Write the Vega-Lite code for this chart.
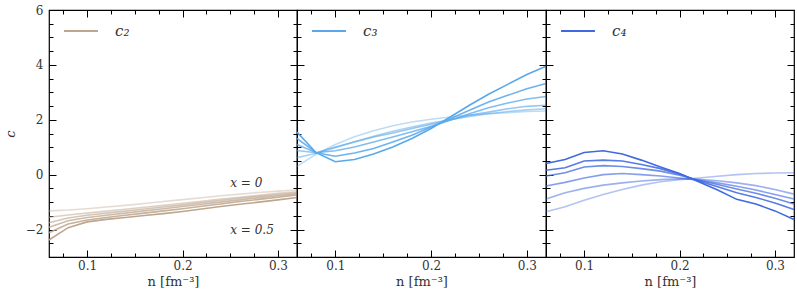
{
  "$schema": "https://vega.github.io/schema/vega-lite/v6.json",
  "padding": {"left": 3, "top": 3, "right": 2, "bottom": 4},
  "background": "white",
  "bounds": "flush",
  "config": {
    "view": {"stroke": "black", "strokeWidth": 1.2},
    "font": "DejaVu Serif",
    "style": {"guide-label": {"font": "DejaVu Serif"}, "guide-title": {"font": "DejaVu Serif"}},
    "text": {"font": "DejaVu Serif"},
    "legend": {"labelFont": "DejaVu Serif"},
    "axis": {"domain": false, "grid": false, "minExtent": 0, "tickColor": "black", "tickWidth": 1, "labelColor": "#333", "labelFontSize": 12, "labelFont": "DejaVu Serif", "titleFont": "DejaVu Serif", "titleFontSize": 13, "titleFontWeight": "normal", "titleColor": "#333"}
  },
  "datasets": {
    "c2": [
      {"x":0,"n":0.06,"c":-1.32},{"x":0,"n":0.08,"c":-1.29},{"x":0,"n":0.1,"c":-1.24},{"x":0,"n":0.12,"c":-1.18},{"x":0,"n":0.14,"c":-1.12},{"x":0,"n":0.16,"c":-1.05},{"x":0,"n":0.18,"c":-0.98},{"x":0,"n":0.2,"c":-0.91},{"x":0,"n":0.22,"c":-0.84},{"x":0,"n":0.24,"c":-0.77},{"x":0,"n":0.26,"c":-0.71},{"x":0,"n":0.28,"c":-0.65},{"x":0,"n":0.3,"c":-0.6},{"x":0,"n":0.32,"c":-0.56},
      {"x":0.1,"n":0.06,"c":-1.55},{"x":0.1,"n":0.08,"c":-1.47},{"x":0.1,"n":0.1,"c":-1.4},{"x":0.1,"n":0.12,"c":-1.33},{"x":0.1,"n":0.14,"c":-1.26},{"x":0.1,"n":0.16,"c":-1.19},{"x":0.1,"n":0.18,"c":-1.12},{"x":0.1,"n":0.2,"c":-1.04},{"x":0.1,"n":0.22,"c":-0.97},{"x":0.1,"n":0.24,"c":-0.89},{"x":0.1,"n":0.26,"c":-0.82},{"x":0.1,"n":0.28,"c":-0.75},{"x":0.1,"n":0.3,"c":-0.68},{"x":0.1,"n":0.32,"c":-0.62},
      {"x":0.2,"n":0.06,"c":-1.75},{"x":0.2,"n":0.08,"c":-1.58},{"x":0.2,"n":0.1,"c":-1.48},{"x":0.2,"n":0.12,"c":-1.4},{"x":0.2,"n":0.14,"c":-1.33},{"x":0.2,"n":0.16,"c":-1.25},{"x":0.2,"n":0.18,"c":-1.18},{"x":0.2,"n":0.2,"c":-1.1},{"x":0.2,"n":0.22,"c":-1.02},{"x":0.2,"n":0.24,"c":-0.94},{"x":0.2,"n":0.26,"c":-0.86},{"x":0.2,"n":0.28,"c":-0.79},{"x":0.2,"n":0.3,"c":-0.72},{"x":0.2,"n":0.32,"c":-0.66},
      {"x":0.3,"n":0.06,"c":-1.92},{"x":0.3,"n":0.08,"c":-1.68},{"x":0.3,"n":0.1,"c":-1.56},{"x":0.3,"n":0.12,"c":-1.48},{"x":0.3,"n":0.14,"c":-1.4},{"x":0.3,"n":0.16,"c":-1.32},{"x":0.3,"n":0.18,"c":-1.24},{"x":0.3,"n":0.2,"c":-1.16},{"x":0.3,"n":0.22,"c":-1.08},{"x":0.3,"n":0.24,"c":-1.0},{"x":0.3,"n":0.26,"c":-0.92},{"x":0.3,"n":0.28,"c":-0.84},{"x":0.3,"n":0.3,"c":-0.77},{"x":0.3,"n":0.32,"c":-0.7},
      {"x":0.4,"n":0.06,"c":-2.12},{"x":0.4,"n":0.08,"c":-1.8},{"x":0.4,"n":0.1,"c":-1.65},{"x":0.4,"n":0.12,"c":-1.56},{"x":0.4,"n":0.14,"c":-1.48},{"x":0.4,"n":0.16,"c":-1.4},{"x":0.4,"n":0.18,"c":-1.32},{"x":0.4,"n":0.2,"c":-1.24},{"x":0.4,"n":0.22,"c":-1.15},{"x":0.4,"n":0.24,"c":-1.07},{"x":0.4,"n":0.26,"c":-0.98},{"x":0.4,"n":0.28,"c":-0.9},{"x":0.4,"n":0.3,"c":-0.82},{"x":0.4,"n":0.32,"c":-0.74},
      {"x":0.5,"n":0.06,"c":-2.38},{"x":0.5,"n":0.08,"c":-1.93},{"x":0.5,"n":0.1,"c":-1.72},{"x":0.5,"n":0.12,"c":-1.63},{"x":0.5,"n":0.14,"c":-1.56},{"x":0.5,"n":0.16,"c":-1.49},{"x":0.5,"n":0.18,"c":-1.42},{"x":0.5,"n":0.2,"c":-1.34},{"x":0.5,"n":0.22,"c":-1.25},{"x":0.5,"n":0.24,"c":-1.16},{"x":0.5,"n":0.26,"c":-1.08},{"x":0.5,"n":0.28,"c":-1.0},{"x":0.5,"n":0.3,"c":-0.92},{"x":0.5,"n":0.32,"c":-0.83}
    ],
    "c3": [
      {"x":0,"n":0.06,"c":0.3},{"x":0,"n":0.08,"c":0.75},{"x":0,"n":0.1,"c":1.1},{"x":0,"n":0.12,"c":1.38},{"x":0,"n":0.14,"c":1.6},{"x":0,"n":0.16,"c":1.78},{"x":0,"n":0.18,"c":1.92},{"x":0,"n":0.2,"c":2.02},{"x":0,"n":0.22,"c":2.1},{"x":0,"n":0.24,"c":2.17},{"x":0,"n":0.26,"c":2.22},{"x":0,"n":0.28,"c":2.26},{"x":0,"n":0.3,"c":2.3},{"x":0,"n":0.32,"c":2.32},
      {"x":0.1,"n":0.06,"c":0.62},{"x":0.1,"n":0.08,"c":0.78},{"x":0.1,"n":0.1,"c":0.98},{"x":0.1,"n":0.12,"c":1.2},{"x":0.1,"n":0.14,"c":1.4},{"x":0.1,"n":0.16,"c":1.58},{"x":0.1,"n":0.18,"c":1.74},{"x":0.1,"n":0.2,"c":1.88},{"x":0.1,"n":0.22,"c":2.0},{"x":0.1,"n":0.24,"c":2.12},{"x":0.1,"n":0.26,"c":2.22},{"x":0.1,"n":0.28,"c":2.3},{"x":0.1,"n":0.3,"c":2.36},{"x":0.1,"n":0.32,"c":2.4},
      {"x":0.2,"n":0.06,"c":0.88},{"x":0.2,"n":0.08,"c":0.8},{"x":0.2,"n":0.1,"c":1.01},{"x":0.2,"n":0.12,"c":1.19},{"x":0.2,"n":0.14,"c":1.37},{"x":0.2,"n":0.16,"c":1.52},{"x":0.2,"n":0.18,"c":1.68},{"x":0.2,"n":0.2,"c":1.84},{"x":0.2,"n":0.22,"c":2.0},{"x":0.2,"n":0.24,"c":2.16},{"x":0.2,"n":0.26,"c":2.28},{"x":0.2,"n":0.28,"c":2.4},{"x":0.2,"n":0.3,"c":2.49},{"x":0.2,"n":0.32,"c":2.53},
      {"x":0.3,"n":0.06,"c":1.1},{"x":0.3,"n":0.08,"c":0.8},{"x":0.3,"n":0.1,"c":0.87},{"x":0.3,"n":0.12,"c":1.01},{"x":0.3,"n":0.14,"c":1.19},{"x":0.3,"n":0.16,"c":1.37},{"x":0.3,"n":0.18,"c":1.56},{"x":0.3,"n":0.2,"c":1.76},{"x":0.3,"n":0.22,"c":1.98},{"x":0.3,"n":0.24,"c":2.22},{"x":0.3,"n":0.26,"c":2.44},{"x":0.3,"n":0.28,"c":2.61},{"x":0.3,"n":0.3,"c":2.76},{"x":0.3,"n":0.32,"c":2.85},
      {"x":0.4,"n":0.06,"c":1.32},{"x":0.4,"n":0.08,"c":0.8},{"x":0.4,"n":0.1,"c":0.67},{"x":0.4,"n":0.12,"c":0.79},{"x":0.4,"n":0.14,"c":0.95},{"x":0.4,"n":0.16,"c":1.19},{"x":0.4,"n":0.18,"c":1.44},{"x":0.4,"n":0.2,"c":1.74},{"x":0.4,"n":0.22,"c":2.04},{"x":0.4,"n":0.24,"c":2.35},{"x":0.4,"n":0.26,"c":2.65},{"x":0.4,"n":0.28,"c":2.89},{"x":0.4,"n":0.3,"c":3.13},{"x":0.4,"n":0.32,"c":3.32},
      {"x":0.5,"n":0.06,"c":1.55},{"x":0.5,"n":0.08,"c":0.8},{"x":0.5,"n":0.1,"c":0.47},{"x":0.5,"n":0.12,"c":0.55},{"x":0.5,"n":0.14,"c":0.75},{"x":0.5,"n":0.16,"c":1.01},{"x":0.5,"n":0.18,"c":1.32},{"x":0.5,"n":0.2,"c":1.68},{"x":0.5,"n":0.22,"c":2.1},{"x":0.5,"n":0.24,"c":2.53},{"x":0.5,"n":0.26,"c":2.93},{"x":0.5,"n":0.28,"c":3.29},{"x":0.5,"n":0.3,"c":3.65},{"x":0.5,"n":0.32,"c":3.95}
    ],
    "c4": [
      {"x":0,"n":0.06,"c":-1.35},{"x":0,"n":0.08,"c":-1.17},{"x":0,"n":0.1,"c":-0.93},{"x":0,"n":0.12,"c":-0.72},{"x":0,"n":0.14,"c":-0.54},{"x":0,"n":0.16,"c":-0.38},{"x":0,"n":0.18,"c":-0.26},{"x":0,"n":0.2,"c":-0.18},{"x":0,"n":0.22,"c":-0.12},{"x":0,"n":0.24,"c":-0.06},{"x":0,"n":0.26,"c":0.0},{"x":0,"n":0.28,"c":0.04},{"x":0,"n":0.3,"c":0.06},{"x":0,"n":0.32,"c":0.07},
      {"x":0.1,"n":0.06,"c":-0.89},{"x":0.1,"n":0.08,"c":-0.66},{"x":0.1,"n":0.1,"c":-0.5},{"x":0.1,"n":0.12,"c":-0.38},{"x":0.1,"n":0.14,"c":-0.3},{"x":0.1,"n":0.16,"c":-0.23},{"x":0.1,"n":0.18,"c":-0.18},{"x":0.1,"n":0.2,"c":-0.15},{"x":0.1,"n":0.22,"c":-0.17},{"x":0.1,"n":0.24,"c":-0.22},{"x":0.1,"n":0.26,"c":-0.3},{"x":0.1,"n":0.28,"c":-0.4},{"x":0.1,"n":0.3,"c":-0.54},{"x":0.1,"n":0.32,"c":-0.71},
      {"x":0.2,"n":0.06,"c":-0.41},{"x":0.2,"n":0.08,"c":-0.28},{"x":0.2,"n":0.1,"c":-0.12},{"x":0.2,"n":0.12,"c":0.0},{"x":0.2,"n":0.14,"c":0.04},{"x":0.2,"n":0.16,"c":0.0},{"x":0.2,"n":0.18,"c":-0.05},{"x":0.2,"n":0.2,"c":-0.12},{"x":0.2,"n":0.22,"c":-0.2},{"x":0.2,"n":0.24,"c":-0.3},{"x":0.2,"n":0.26,"c":-0.42},{"x":0.2,"n":0.28,"c":-0.56},{"x":0.2,"n":0.3,"c":-0.72},{"x":0.2,"n":0.32,"c":-0.89},
      {"x":0.3,"n":0.06,"c":-0.05},{"x":0.3,"n":0.08,"c":0.07},{"x":0.3,"n":0.1,"c":0.28},{"x":0.3,"n":0.12,"c":0.33},{"x":0.3,"n":0.14,"c":0.3},{"x":0.3,"n":0.16,"c":0.22},{"x":0.3,"n":0.18,"c":0.13},{"x":0.3,"n":0.2,"c":-0.02},{"x":0.3,"n":0.22,"c":-0.2},{"x":0.3,"n":0.24,"c":-0.36},{"x":0.3,"n":0.26,"c":-0.52},{"x":0.3,"n":0.28,"c":-0.68},{"x":0.3,"n":0.3,"c":-0.86},{"x":0.3,"n":0.32,"c":-1.07},
      {"x":0.4,"n":0.06,"c":0.16},{"x":0.4,"n":0.08,"c":0.25},{"x":0.4,"n":0.1,"c":0.5},{"x":0.4,"n":0.12,"c":0.53},{"x":0.4,"n":0.14,"c":0.5},{"x":0.4,"n":0.16,"c":0.37},{"x":0.4,"n":0.18,"c":0.22},{"x":0.4,"n":0.2,"c":0.02},{"x":0.4,"n":0.22,"c":-0.23},{"x":0.4,"n":0.24,"c":-0.44},{"x":0.4,"n":0.26,"c":-0.66},{"x":0.4,"n":0.28,"c":-0.83},{"x":0.4,"n":0.3,"c":-1.03},{"x":0.4,"n":0.32,"c":-1.27},
      {"x":0.5,"n":0.06,"c":0.41},{"x":0.5,"n":0.08,"c":0.55},{"x":0.5,"n":0.1,"c":0.81},{"x":0.5,"n":0.12,"c":0.87},{"x":0.5,"n":0.14,"c":0.75},{"x":0.5,"n":0.16,"c":0.53},{"x":0.5,"n":0.18,"c":0.28},{"x":0.5,"n":0.2,"c":0.04},{"x":0.5,"n":0.22,"c":-0.26},{"x":0.5,"n":0.24,"c":-0.56},{"x":0.5,"n":0.26,"c":-0.9},{"x":0.5,"n":0.28,"c":-1.07},{"x":0.5,"n":0.3,"c":-1.32},{"x":0.5,"n":0.32,"c":-1.63}
    ],
    "notes": [
      {"n":0.25,"c":-0.3,"t":"x = 0"},
      {"n":0.25,"c":-2.03,"t":"x = 0.5"}
    ]
  },
  "spacing": 0,
  "resolve": {"scale": {"color": "independent", "opacity": "independent"}},
  "hconcat": [
    {
      "width": 248, "height": 247,
      "resolve": {"axis": {"x": "independent", "y": "independent"}},
      "layer": [
        {
          "data": {"name": "c2"},
          "mark": {"type": "line", "strokeWidth": 1.6},
          "encoding": {
            "x": {"field": "n", "type": "quantitative", "scale": {"domain": [0.06, 0.32], "nice": false, "zero": false},
              "axis": {"orient": "bottom", "title": "n [fm⁻³]", "labelFont": "DejaVu Serif", "values": [0.075,0.1,0.125,0.15,0.175,0.2,0.225,0.25,0.275,0.3], "labelExpr": "abs(datum.value*10 - round(datum.value*10)) < 0.001 ? format(datum.value, '.1f') : ''", "tickSize": {"condition": {"test": "abs(datum.value*10 - round(datum.value*10)) < 0.001", "value": -7}, "value": -4}, "labelPadding": 10, "titlePadding": 4}},
            "y": {"field": "c", "type": "quantitative", "scale": {"domain": [-3, 6], "nice": false, "zero": false},
              "axis": {"orient": "left", "title": "c", "labelFont": "DejaVu Serif", "titleFontStyle": "italic", "values": [-2.5,-2,-1.5,-1,-0.5,0,0.5,1,1.5,2,2.5,3,3.5,4,4.5,5,5.5,6], "labelExpr": "abs(datum.value/2 - round(datum.value/2)) < 0.001 ? format(datum.value, 'd') : ''", "tickSize": {"condition": {"test": "abs(datum.value/2 - round(datum.value/2)) < 0.001", "value": -7}, "value": -4}, "labelPadding": 13, "titlePadding": 8}},
            "color": {"datum": "c₂", "type": "nominal", "scale": {"range": ["#bea68e"]},
              "legend": {"orient": "none", "legendX": 14, "legendY": 3, "title": null, "symbolType": "stroke", "symbolSize": 1150, "symbolStrokeWidth": 2, "labelFont": "DejaVu Serif", "labelFontSize": 15, "labelFontStyle": "italic", "labelColor": "#333", "labelOffset": 16, "padding": 0}},
            "opacity": {"field": "x", "type": "quantitative", "scale": {"domain": [0, 0.5], "range": [0.4, 1]}, "legend": null},
            "detail": {"field": "x", "type": "nominal"}
          }
        },
        {
          "data": {"name": "c2"},
          "mark": {"type": "point", "opacity": 0},
          "encoding": {
            "x": {"field": "n", "type": "quantitative", "axis": {"orient": "top", "title": null, "labels": false, "values": [0.075,0.1,0.125,0.15,0.175,0.2,0.225,0.25,0.275,0.3], "tickSize": {"condition": {"test": "abs(datum.value*10 - round(datum.value*10)) < 0.001", "value": -7}, "value": -4}}},
            "y": {"field": "c", "type": "quantitative", "axis": {"orient": "right", "title": null, "labels": false, "values": [-2.5,-2,-1.5,-1,-0.5,0,0.5,1,1.5,2,2.5,3,3.5,4,4.5,5,5.5,6], "tickSize": {"condition": {"test": "abs(datum.value/2 - round(datum.value/2)) < 0.001", "value": -7}, "value": -4}}}
          }
        },
        {
          "data": {"name": "notes"},
          "mark": {"type": "text", "align": "left", "baseline": "middle", "fontSize": 12, "font": "DejaVu Serif", "fontStyle": "italic", "color": "#333"},
          "encoding": {
            "x": {"field": "n", "type": "quantitative", "axis": null},
            "y": {"field": "c", "type": "quantitative", "axis": null},
            "text": {"field": "t"}
          }
        }
      ]
    },
    {
      "width": 249, "height": 247,
      "resolve": {"axis": {"x": "independent", "y": "independent"}},
      "layer": [
        {
          "data": {"name": "c3"},
          "mark": {"type": "line", "strokeWidth": 1.6},
          "encoding": {
            "x": {"field": "n", "type": "quantitative", "scale": {"domain": [0.06, 0.32], "nice": false, "zero": false},
              "axis": {"orient": "bottom", "title": "n [fm⁻³]", "labelFont": "DejaVu Serif", "values": [0.075,0.1,0.125,0.15,0.175,0.2,0.225,0.25,0.275,0.3], "labelExpr": "abs(datum.value*10 - round(datum.value*10)) < 0.001 ? format(datum.value, '.1f') : ''", "tickSize": {"condition": {"test": "abs(datum.value*10 - round(datum.value*10)) < 0.001", "value": -7}, "value": -4}, "labelPadding": 10, "titlePadding": 4}},
            "y": {"field": "c", "type": "quantitative", "scale": {"domain": [-3, 6], "nice": false, "zero": false},
              "axis": {"orient": "left", "title": null, "labels": false, "values": [-2.5,-2,-1.5,-1,-0.5,0,0.5,1,1.5,2,2.5,3,3.5,4,4.5,5,5.5,6], "tickSize": {"condition": {"test": "abs(datum.value/2 - round(datum.value/2)) < 0.001", "value": -7}, "value": -4}}},
            "color": {"datum": "c₃", "type": "nominal", "scale": {"range": ["#5aa8ea"]},
              "legend": {"orient": "none", "legendX": 14, "legendY": 3, "title": null, "symbolType": "stroke", "symbolSize": 1150, "symbolStrokeWidth": 2, "labelFont": "DejaVu Serif", "labelFontSize": 15, "labelFontStyle": "italic", "labelColor": "#333", "labelOffset": 16, "padding": 0}},
            "opacity": {"field": "x", "type": "quantitative", "scale": {"domain": [0, 0.5], "range": [0.4, 1]}, "legend": null},
            "detail": {"field": "x", "type": "nominal"}
          }
        },
        {
          "data": {"name": "c3"},
          "mark": {"type": "point", "opacity": 0},
          "encoding": {
            "x": {"field": "n", "type": "quantitative", "axis": {"orient": "top", "title": null, "labels": false, "values": [0.075,0.1,0.125,0.15,0.175,0.2,0.225,0.25,0.275,0.3], "tickSize": {"condition": {"test": "abs(datum.value*10 - round(datum.value*10)) < 0.001", "value": -7}, "value": -4}}},
            "y": {"field": "c", "type": "quantitative", "axis": {"orient": "right", "title": null, "labels": false, "values": [-2.5,-2,-1.5,-1,-0.5,0,0.5,1,1.5,2,2.5,3,3.5,4,4.5,5,5.5,6], "tickSize": {"condition": {"test": "abs(datum.value/2 - round(datum.value/2)) < 0.001", "value": -7}, "value": -4}}}
          }
        }
      ]
    },
    {
      "width": 248, "height": 247,
      "resolve": {"axis": {"x": "independent", "y": "independent"}},
      "layer": [
        {
          "data": {"name": "c4"},
          "mark": {"type": "line", "strokeWidth": 1.6},
          "encoding": {
            "x": {"field": "n", "type": "quantitative", "scale": {"domain": [0.06, 0.32], "nice": false, "zero": false},
              "axis": {"orient": "bottom", "title": "n [fm⁻³]", "labelFont": "DejaVu Serif", "values": [0.075,0.1,0.125,0.15,0.175,0.2,0.225,0.25,0.275,0.3], "labelExpr": "abs(datum.value*10 - round(datum.value*10)) < 0.001 ? format(datum.value, '.1f') : ''", "tickSize": {"condition": {"test": "abs(datum.value*10 - round(datum.value*10)) < 0.001", "value": -7}, "value": -4}, "labelPadding": 10, "titlePadding": 4}},
            "y": {"field": "c", "type": "quantitative", "scale": {"domain": [-3, 6], "nice": false, "zero": false},
              "axis": {"orient": "left", "title": null, "labels": false, "values": [-2.5,-2,-1.5,-1,-0.5,0,0.5,1,1.5,2,2.5,3,3.5,4,4.5,5,5.5,6], "tickSize": {"condition": {"test": "abs(datum.value/2 - round(datum.value/2)) < 0.001", "value": -7}, "value": -4}}},
            "color": {"datum": "c₄", "type": "nominal", "scale": {"range": ["#4169e1"]},
              "legend": {"orient": "none", "legendX": 14, "legendY": 3, "title": null, "symbolType": "stroke", "symbolSize": 1150, "symbolStrokeWidth": 2, "labelFont": "DejaVu Serif", "labelFontSize": 15, "labelFontStyle": "italic", "labelColor": "#333", "labelOffset": 16, "padding": 0}},
            "opacity": {"field": "x", "type": "quantitative", "scale": {"domain": [0, 0.5], "range": [0.4, 1]}, "legend": null},
            "detail": {"field": "x", "type": "nominal"}
          }
        },
        {
          "data": {"name": "c4"},
          "mark": {"type": "point", "opacity": 0},
          "encoding": {
            "x": {"field": "n", "type": "quantitative", "axis": {"orient": "top", "title": null, "labels": false, "values": [0.075,0.1,0.125,0.15,0.175,0.2,0.225,0.25,0.275,0.3], "tickSize": {"condition": {"test": "abs(datum.value*10 - round(datum.value*10)) < 0.001", "value": -7}, "value": -4}}},
            "y": {"field": "c", "type": "quantitative", "axis": {"orient": "right", "title": null, "labels": false, "values": [-2.5,-2,-1.5,-1,-0.5,0,0.5,1,1.5,2,2.5,3,3.5,4,4.5,5,5.5,6], "tickSize": {"condition": {"test": "abs(datum.value/2 - round(datum.value/2)) < 0.001", "value": -7}, "value": -4}}}
          }
        }
      ]
    }
  ]
}
